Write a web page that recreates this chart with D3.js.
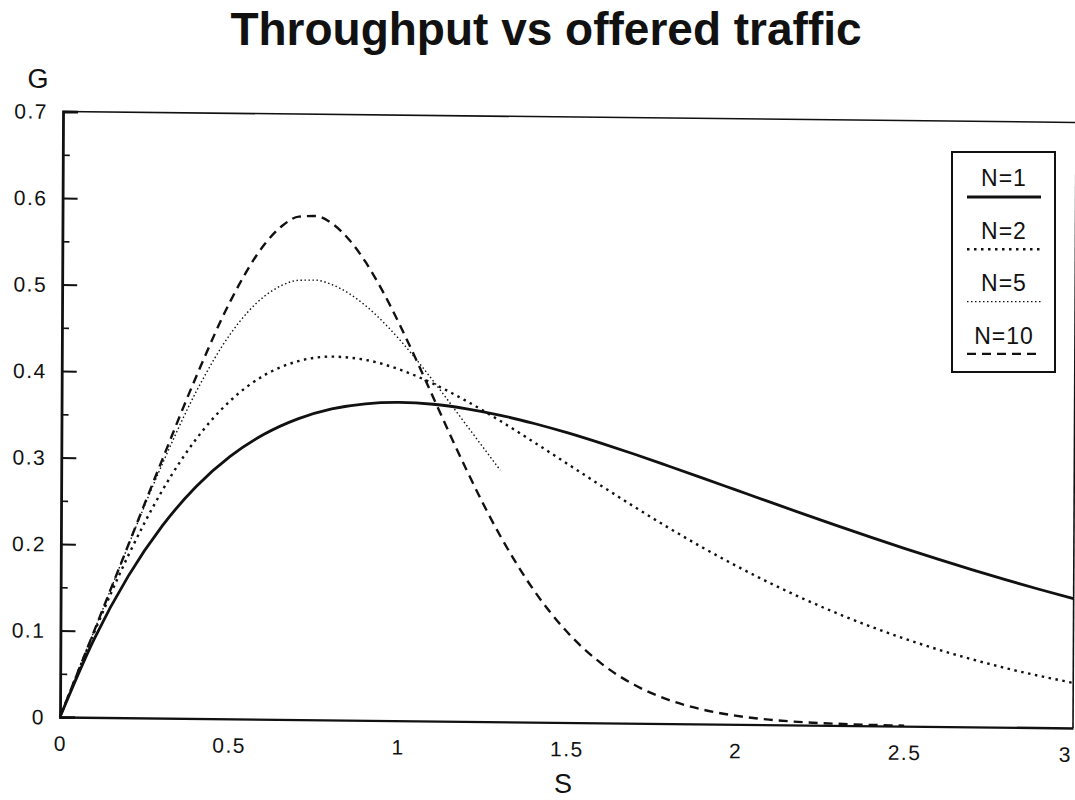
<!DOCTYPE html>
<html>
<head>
<meta charset="utf-8">
<script src="https://cdn.jsdelivr.net/npm/d3@7"></script>
<style>
  html, body { margin: 0; padding: 0; background: #fff; }
  svg { display: block; }
  text { font-family: "Liberation Sans", Arial, sans-serif; fill: #111; }
</style>
</head>
<body>
<svg id="chart" width="1075" height="800"></svg>
<script>
// Offered traffic S and throughput G for a single station (N=1)
const sGrid = [0,0.1,0.2,0.3,0.4,0.5,0.6,0.7,0.8,0.9,1.0,1.1,1.2,1.3,1.4,1.5,1.6,1.7,1.8,1.9,2.0,2.1,2.2,2.3,2.4,2.5,2.6,2.7,2.8,2.9,3.0];
const gN1 = [0,0.0905,0.1637,0.2222,0.2681,0.3033,0.3293,0.3476,0.3595,0.3659,0.3679,0.3662,0.3614,0.3543,0.3452,0.3347,0.3230,0.3106,0.2975,0.2842,0.2707,0.2572,0.2438,0.2306,0.2177,0.2052,0.1931,0.1815,0.1703,0.1596,0.1494];
// N=2 on the same S grid
const gN2 = [0,0.0983,0.1877,0.2634,0.3235,0.3679,0.3976,0.4143,0.4200,0.4166,0.4060,0.3900,0.3701,0.3476,0.3235,0.2987,0.2739,0.2496,0.2262,0.2040,0.1832,0.1638,0.1459,0.1295,0.1146,0.1011,0.0889,0.0781,0.0683,0.0597,0.0521];
// N=5 (plotted up to S=1.3)
const sN5 = [0,0.1,0.2,0.3,0.4,0.5,0.6,0.65,0.7,0.75,0.8,0.85,0.9,0.95,1.0,1.1,1.2,1.3];
const gN5 = [0,0.1000,0.1993,0.2944,0.3789,0.4456,0.4892,0.5016,0.5078,0.5082,0.5031,0.4931,0.4789,0.4611,0.4405,0.3933,0.3421,0.2908];
// N=10
const sN10 = [0,0.1,0.2,0.3,0.4,0.5,0.6,0.65,0.7,0.75,0.8,0.85,0.9,0.95,1.0,1.05,1.1,1.15,1.2,1.3,1.4,1.5,1.6,1.7,1.8,1.9,2.0,2.1,2.2,2.3,2.4,2.5];
const gN10 = [0,0.1000,0.2000,0.2997,0.3968,0.4841,0.5496,0.5703,0.5814,0.5823,0.5733,0.5550,0.5287,0.4957,0.4579,0.4170,0.3746,0.3321,0.2909,0.2156,0.1532,0.1048,0.0693,0.0444,0.0277,0.0168,0.0100,0.0058,0.0033,0.0019,0.0010,0.0006];

const legendLabels = ["N=1", "N=2", "N=5", "N=10"];
const xTickValues = [0, 0.5, 1, 1.5, 2, 2.5, 3];
const xTickLabels = ["0", "0.5", "1", "1.5", "2", "2.5", "3"];
const yTickValues = [0, 0.1, 0.2, 0.3, 0.4, 0.5, 0.6, 0.7];
const yTickLabels = ["0", "0.1", "0.2", "0.3", "0.4", "0.5", "0.6", "0.7"];
const yMinorValues = [0.05, 0.15, 0.25, 0.35, 0.45, 0.55, 0.65];

const seriesStyles = [
  { width: 2.8, dash: null },
  { width: 2.4, dash: "2.5,4.5" },
  { width: 1.4, dash: "1.5,2.5" },
  { width: 2.4, dash: "9,6" }
];

const series = [
  { s: sGrid, g: gN1 },
  { s: sGrid, g: gN2 },
  { s: sN5, g: gN5 },
  { s: sN10, g: gN10 }
];

const svg = d3.select("#chart");

const x = d3.scaleLinear().domain([0, 3]).range([60, 1073]);
const y = d3.scaleLinear().domain([0, 0.7]).range([717, 111.5]);

// Title
svg.append("text")
  .attr("x", 546).attr("y", 45)
  .attr("text-anchor", "middle")
  .style("font-size", "46px").style("font-weight", "bold")
  .text("Throughput vs offered traffic");

// The printed page sits slightly skewed; keep the plot in one group with that skew.
const g = svg.append("g")
  .attr("transform", "matrix(1,0.0108,-0.005,1," + (0.005 * 717) + "," + (-0.0108 * 60) + ")");

// Frame: top and right
g.append("line").attr("x1", x(0)).attr("x2", x(3)).attr("y1", y(0.7)).attr("y2", y(0.7))
  .attr("stroke", "#111").attr("stroke-width", 1.6);
g.append("line").attr("x1", x(3)).attr("x2", x(3)).attr("y1", y(0.7)).attr("y2", y(0))
  .attr("stroke", "#111").attr("stroke-width", 1.6);

// Bottom axis (labels only, no tick marks)
const xAxis = d3.axisBottom(x).tickValues(xTickValues)
  .tickFormat((d, i) => xTickLabels[i]).tickSize(0).tickPadding(19);
const xa = g.append("g").attr("transform", `translate(0,${y(0)})`).call(xAxis);
xa.select(".domain").attr("stroke", "#111").attr("stroke-width", 2.4);
xa.selectAll("text").style("font-size", "21px").style("letter-spacing", "1.5px")
  .style("font-family", "'Liberation Sans', Arial, sans-serif").attr("fill", "#111");
// last label pulled inside the page edge
xa.selectAll(".tick").filter(d => d === 3).select("text").attr("dx", -8);

// Left axis with inward ticks
const yAxis = d3.axisRight(y).tickValues(yTickValues)
  .tickFormat("").tickSize(15);
const ya = g.append("g").attr("transform", `translate(${x(0)},0)`).call(yAxis);
ya.select(".domain").attr("stroke", "#111").attr("stroke-width", 2.8);
ya.selectAll(".tick line").attr("stroke", "#111").attr("stroke-width", 2)
  .filter(d => d === 0 || d === 0.7).remove();
const yMinor = d3.axisRight(y).tickValues(yMinorValues).tickFormat("").tickSize(7);
const ym = g.append("g").attr("transform", `translate(${x(0)},0)`).call(yMinor);
ym.select(".domain").remove();
ym.selectAll(".tick line").attr("stroke", "#111").attr("stroke-width", 1.6);

g.selectAll(".ylab").data(yTickValues).enter().append("text")
  .attr("class", "ylab")
  .attr("x", 45).attr("y", d => y(d) + 7.5)
  .attr("text-anchor", "end")
  .style("font-size", "21px").style("letter-spacing", "1.5px")
  .text((d, i) => yTickLabels[i]);

// Axis titles
svg.append("text").attr("x", 38).attr("y", 88).attr("text-anchor", "middle")
  .style("font-size", "27px").text("G");
svg.append("text").attr("x", 563).attr("y", 793).attr("text-anchor", "middle")
  .style("font-size", "27px").text("S");

// Curves
const line = d3.line().x(d => x(d[0])).y(d => y(d[1])).curve(d3.curveMonotoneX);
series.forEach((sr, i) => {
  const pts = sr.s.map((s, j) => [s, sr.g[j]]);
  g.append("path").datum(pts)
    .attr("d", line)
    .attr("fill", "none")
    .attr("stroke", "#111")
    .attr("stroke-width", seriesStyles[i].width)
    .attr("stroke-dasharray", seriesStyles[i].dash);
});

// Legend
const lg = svg.append("g");
lg.append("rect").attr("x", 952).attr("y", 152).attr("width", 103).attr("height", 220)
  .attr("fill", "#fff").attr("stroke", "#111").attr("stroke-width", 2);
legendLabels.forEach((lab, i) => {
  const yTxt = 186 + i * 52.5;
  const yLine = 197 + i * 52.3;
  lg.append("text").attr("x", 1004).attr("y", yTxt).attr("text-anchor", "middle")
    .style("font-size", "23px").style("letter-spacing", "1px").text(lab);
  lg.append("line").attr("x1", 967).attr("x2", 1041).attr("y1", yLine).attr("y2", yLine)
    .attr("stroke", "#111")
    .attr("stroke-width", seriesStyles[i].width)
    .attr("stroke-dasharray", seriesStyles[i].dash);
});
</script>
</body>
</html>
